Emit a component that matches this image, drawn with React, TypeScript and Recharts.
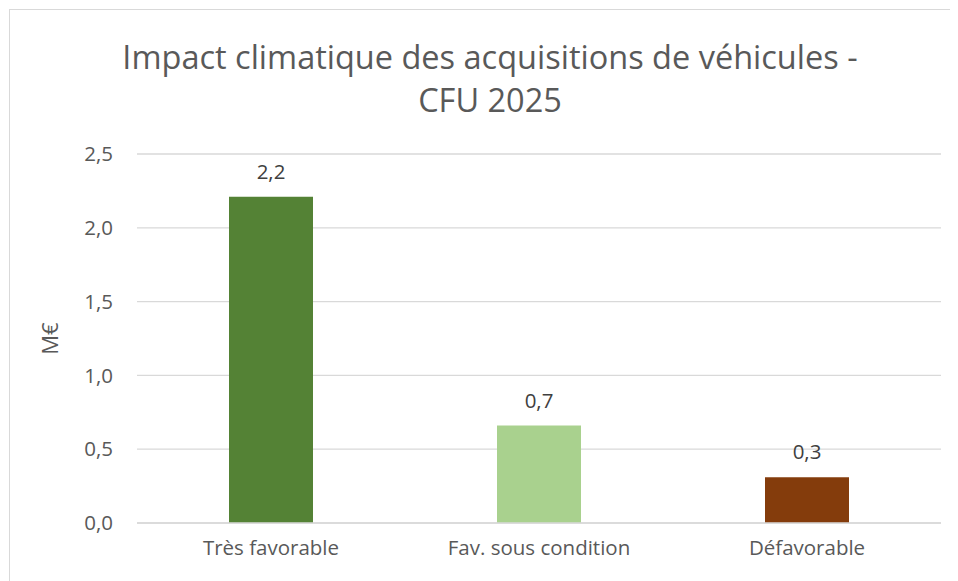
import { BarChart, Bar, XAxis, YAxis, CartesianGrid, Cell, LabelList, Label } from "recharts";

const categories = ["Très favorable", "Fav. sous condition", "Défavorable"];
const values = [2.21, 0.66, 0.31];
const barColors = ["#548235", "#A9D18E", "#843C0C"];
const yTicks = [0, 0.5, 1, 1.5, 2, 2.5];

const data = categories.map((name, i) => ({ name, value: values[i] }));

const fr = (v: number) => v.toFixed(1).replace(".", ",");

const font = "'Open Sans', sans-serif";

export default function App() {
  return (
    <div
      style={{
        position: "relative",
        width: 960,
        height: 580,
        marginLeft: 1,
        marginTop: 1,
        border: "1px solid #d9d9d9",
        background: "#fff",
        fontFamily: font,
      }}
    >
      <div
        style={{
          position: "absolute",
          left: 0,
          top: 25,
          width: 960,
          textAlign: "center",
          fontSize: 32.5,
          lineHeight: "43px",
          color: "#595959",
        }}
      >
        Impact climatique des acquisitions de véhicules -
        <br />
        CFU 2025
      </div>
      <BarChart
        width={958}
        height={578}
        data={data}
        margin={{ top: 144, right: 27, left: 0, bottom: 35 }}
        style={{ position: "absolute", left: 0, top: 0 }}
      >
        <CartesianGrid vertical={false} stroke="#d9d9d9" strokeWidth={1.3} />
        <XAxis
          dataKey="name"
          axisLine={{ stroke: "#d9d9d9", strokeWidth: 1.3 }}
          tickLine={false}
          tickSize={0}
          tickMargin={17}
          height={30}
          tick={{ fill: "#595959", fontSize: 20.5, fontFamily: font }}
        />
        <YAxis
          domain={[0, 2.5]}
          ticks={yTicks}
          width={127}
          axisLine={false}
          tickLine={false}
          tickSize={0}
          tickMargin={24}
          tickFormatter={fr}
          tick={{ fill: "#595959", fontSize: 20.5, fontFamily: font }}
        >
          <Label
            value="M€"
            angle={-90}
            position="insideLeft"
            offset={40}
            style={{ fill: "#595959", fontSize: 22, fontFamily: font, textAnchor: "middle" }}
          />
        </YAxis>
        <Bar dataKey="value" barSize={84} isAnimationActive={false}>
          {data.map((d, i) => (
            <Cell key={d.name} fill={barColors[i]} />
          ))}
          <LabelList
            dataKey="value"
            position="top"
            offset={18}
            formatter={(v: any) => fr(Number(v))}
            style={{ fill: "#404040", fontSize: 20.5, fontFamily: font }}
          />
        </Bar>
      </BarChart>
    </div>
  );
}
